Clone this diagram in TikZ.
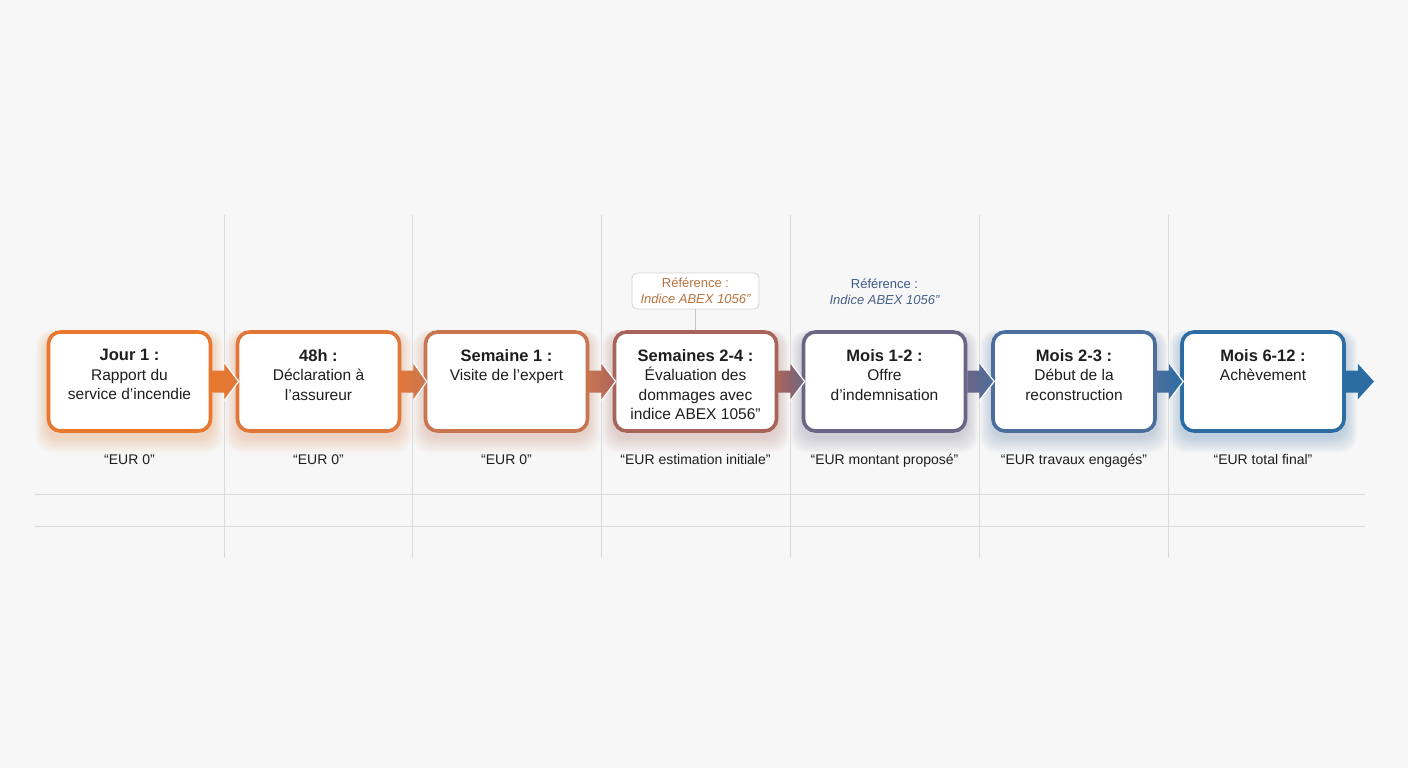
\documentclass[tikz,border=0pt]{standalone}
\usepackage{fontspec}
\setmainfont{Liberation Sans}
\usetikzlibrary{calc}
\definecolor{bg}{HTML}{F7F7F7}
\definecolor{gridc}{HTML}{DADADA}
\definecolor{cA}{HTML}{E8782E}
\definecolor{cB}{HTML}{E0773A}
\definecolor{cC}{HTML}{C87552}
\definecolor{cD}{HTML}{A9645A}
\definecolor{cE}{HTML}{6B6585}
\definecolor{cF}{HTML}{4A6E9E}
\definecolor{cG}{HTML}{2B6CA3}
\definecolor{refor}{HTML}{B8733F}
\definecolor{refbl}{HTML}{3E5A8A}
\definecolor{txt}{HTML}{1E1E1E}
\newcommand\flowarrow[4]{%
  \shade[left color=#3,right color=#4] ($(#1)+(0,-11)$) -- ($(#1)+(12,-11)$) -- ($(#1)+(12,-19)$) -- (#2) -- ($(#1)+(12,19)$) -- ($(#1)+(12,11)$) -- ($(#1)+(0,11)$) -- cycle;
  \draw[white,line width=1.2pt] ($(#1)+(12,-19)$) -- (#2) -- ($(#1)+(12,19)$);
}
\newcommand\glowbox[2]{%
  \foreach \k in {1,...,9}{%
    \fill[#2,opacity=0.03,rounded corners=16pt] (#1-82-\k*1.3,381.5-50-\k*0.6+4) rectangle (#1+82+\k*1.3,381.5+50+\k*1.8+5);
  }%
}
\begin{document}
\begin{tikzpicture}[x=1pt,y=-1pt,
  stepbox/.style={draw, fill=white, rounded corners=12pt, line width=3.6pt, minimum width=162pt, minimum height=99pt, inner sep=0pt},
  steptext/.style={anchor=north, align=center, text=txt, font=\fontsize{15.5}{19.5}\selectfont, inner sep=0pt},
  costtext/.style={anchor=base, text=txt, font=\fontsize{14}{17}\selectfont, inner sep=0pt},
  gridline/.style={draw=gridc, line width=0.9pt},
  refbox/.style={draw=gray!35, fill=white, rounded corners=5pt, line width=0.8pt, minimum width=127pt, minimum height=36pt, align=center, inner sep=0pt, font=\fontsize{13}{16}\selectfont}
]
\useasboundingbox[fill=bg] (0,0) rectangle (1408,768);
% grid
\foreach \gx in {224,412.5,601,790,979,1168}{\draw[gridline] (\gx,215) -- (\gx,558);}
\draw[gridline] (34,494) -- (1365,494);
\draw[gridline] (34,526) -- (1365,526);
% glows
\glowbox{129.5}{cA}
\glowbox{318.5}{cB}
\glowbox{506.5}{cC}
\glowbox{695.5}{cD}
\glowbox{884.5}{cE}
\glowbox{1074}{cF}
\glowbox{1263}{cG}
% boxes
\node[stepbox, draw=cA] (b1) at (129.5,381.5) {};
\node[stepbox, draw=cB] (b2) at (318.5,381.5) {};
\node[stepbox, draw=cC] (b3) at (506.5,381.5) {};
\node[stepbox, draw=cD] (b4) at (695.5,381.5) {};
\node[stepbox, draw=cE] (b5) at (884.5,381.5) {};
\node[stepbox, draw=cF] (b6) at (1074,381.5) {};
\node[stepbox, draw=cG] (b7) at (1263,381.5) {};
% texts
\node[steptext] (t1) at (129.5,349) {{\fontsize{16.5}{19.5}\selectfont\bfseries Jour 1 :}\\Rapport du\\service d’incendie};
\node[steptext] (t2) at (318.5,349) {{\fontsize{16.5}{19.5}\selectfont\bfseries 48h :}\\Déclaration à\\l’assureur};
\node[steptext] (t3) at (506.5,349) {{\fontsize{16.5}{19.5}\selectfont\bfseries Semaine 1 :}\\Visite de l’expert};
\node[steptext] (t4) at (695.5,349) {{\fontsize{16.5}{19.5}\selectfont\bfseries Semaines 2-4 :}\\Évaluation des\\dommages avec\\indice ABEX 1056”};
\node[steptext] (t5) at (884.5,349) {{\fontsize{16.5}{19.5}\selectfont\bfseries Mois 1-2 :}\\Offre\\d’indemnisation};
\node[steptext] (t6) at (1074,349) {{\fontsize{16.5}{19.5}\selectfont\bfseries Mois 2-3 :}\\Début de la\\reconstruction};
\node[steptext] (t7) at (1263,349) {{\fontsize{16.5}{19.5}\selectfont\bfseries Mois 6-12 :}\\Achèvement};
% arrows
\coordinate (e) at (1375,381.5);
\flowarrow{b1.east}{$(b2.west)+(3,0)$}{cA}{cB}
\flowarrow{b2.east}{$(b3.west)+(3,0)$}{cB}{cC}
\flowarrow{b3.east}{$(b4.west)+(3,0)$}{cC}{cD}
\flowarrow{b4.east}{$(b5.west)+(3,0)$}{cD}{cE}
\flowarrow{b5.east}{$(b6.west)+(3,0)$}{cE}{cF}
\flowarrow{b6.east}{$(b7.west)+(3,0)$}{cF}{cG}
\flowarrow{b7.east}{e}{cG}{cG}
% references
\node[refbox] (r1) at (695.5,291) {\textcolor{refor}{Référence :}\\\textcolor{refor}{\itshape Indice ABEX 1056”}};
\draw[draw=gray!45, line width=0.8pt] (r1.south) -- (b4.north);
\node[align=center, inner sep=0pt, font=\fontsize{13}{16}\selectfont] (r2) at (884.5,292) {\textcolor{refbl}{Référence :}\\\textcolor{refbl!85!gray}{\itshape Indice ABEX 1056”}};
% costs
\node[costtext] (c1) at (129.5,464) {“EUR 0”};
\node[costtext] (c2) at (318.5,464) {“EUR 0”};
\node[costtext] (c3) at (506.5,464) {“EUR 0”};
\node[costtext] (c4) at (695.5,464) {“EUR estimation initiale”};
\node[costtext] (c5) at (884.5,464) {“EUR montant proposé”};
\node[costtext] (c6) at (1074,464) {“EUR travaux engagés”};
\node[costtext] (c7) at (1263,464) {“EUR total final”};
\end{tikzpicture}
\end{document}
